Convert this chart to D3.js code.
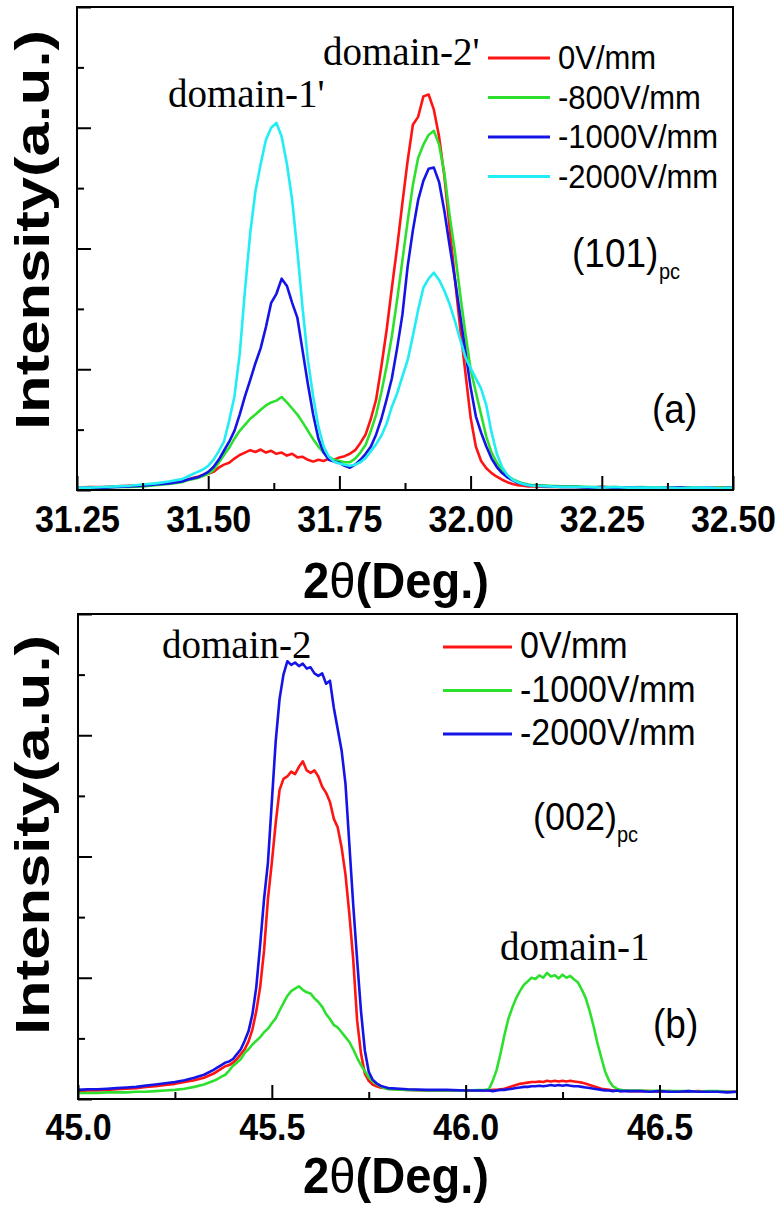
<!DOCTYPE html>
<html>
<head>
<meta charset="utf-8">
<script src="https://cdn.jsdelivr.net/npm/d3@7"></script>
<style>
html,body{margin:0;padding:0;background:#fff;}
svg{display:block;}
</style>
</head>
<body>
<svg id="chart" width="780" height="1207"></svg>
<script>
// ---------------- Panel (a): (101)pc ----------------
const twoThetaA = [
31.25,31.275,31.30,31.325,31.35,31.375,31.40,31.425,31.45,
31.46,31.47,31.48,31.49,31.50,31.51,31.52,31.53,31.54,31.55,
31.56,31.57,31.58,31.59,31.60,31.61,31.62,31.63,31.64,31.65,
31.66,31.67,31.68,31.69,31.70,31.71,31.72,31.73,31.74,31.75,
31.76,31.77,31.78,31.79,31.80,31.81,31.82,31.83,31.84,31.85,
31.86,31.87,31.88,31.89,31.90,31.91,31.92,31.93,31.94,31.95,
31.96,31.97,31.98,31.99,32.00,32.01,32.02,32.03,32.04,32.05,
32.06,32.07,32.08,32.09,32.10,32.11,32.12,
32.15,32.175,32.20,32.225,32.25,32.275,32.30,32.325,32.35,32.375,32.40,32.425,32.45,32.475,32.50
];
const seriesA = ["0V/mm","-800V/mm","-1000V/mm","-2000V/mm"];
const colorsA = ["#ff1414","#2ee02e","#1414e6","#22ecf4"];
const a_0V = [
0.04,0.05,0.05,0.06,0.07,0.08,0.10,0.12,0.15,
0.17,0.20,0.22,0.25,0.27,0.30,0.37,0.42,0.45,0.52,
0.58,0.62,0.66,0.63,0.67,0.62,0.65,0.60,0.62,0.57,
0.60,0.54,0.55,0.50,0.47,0.50,0.48,0.52,0.50,0.54,
0.56,0.60,0.66,0.78,0.92,1.18,1.50,2.05,2.65,3.35,
4.02,4.75,5.45,6.05,6.18,6.52,6.55,6.30,5.85,5.20,
4.35,3.50,2.70,1.95,1.20,0.72,0.48,0.36,0.28,0.22,
0.17,0.13,0.10,0.08,0.07,0.06,0.06,
0.05,0.05,0.05,0.04,0.05,0.04,0.04,0.04,0.04,0.03,0.04,0.04,0.03,0.04,0.04
];
const a_800V = [
0.03,0.03,0.04,0.05,0.05,0.06,0.08,0.10,0.13,
0.16,0.18,0.20,0.23,0.27,0.33,0.45,0.58,0.70,0.85,
0.98,1.08,1.18,1.25,1.33,1.40,1.45,1.48,1.54,1.45,
1.35,1.25,1.12,0.98,0.84,0.72,0.62,0.55,0.50,0.48,
0.46,0.46,0.52,0.62,0.75,0.98,1.25,1.62,2.05,2.55,
3.15,3.80,4.45,5.05,5.50,5.72,5.88,5.95,5.72,5.25,
4.55,3.95,3.25,2.60,2.00,1.62,1.25,0.88,0.62,0.45,
0.33,0.24,0.18,0.14,0.11,0.09,0.08,
0.07,0.06,0.06,0.05,0.05,0.05,0.04,0.05,0.04,0.04,0.04,0.04,0.03,0.04,0.04
];
const a_1000V = [
0.03,0.04,0.04,0.05,0.06,0.07,0.09,0.11,0.14,
0.17,0.19,0.21,0.25,0.30,0.38,0.50,0.65,0.80,0.98,
1.25,1.55,1.82,2.10,2.35,2.70,3.10,3.25,3.50,3.38,
3.10,2.85,2.30,1.75,1.25,0.85,0.62,0.50,0.47,0.45,
0.40,0.37,0.42,0.50,0.60,0.72,0.92,1.18,1.50,1.85,
2.35,2.90,3.70,4.30,4.80,5.12,5.32,5.34,5.10,4.62,
4.05,3.50,2.90,2.30,1.70,1.22,0.95,0.72,0.52,0.38,
0.28,0.21,0.16,0.12,0.10,0.08,0.07,
0.06,0.05,0.05,0.04,0.05,0.04,0.04,0.04,0.03,0.04,0.04,0.03,0.04,0.03,0.04
];
const a_2000V = [
0.04,0.04,0.05,0.06,0.07,0.09,0.11,0.14,0.18,
0.22,0.26,0.30,0.34,0.40,0.50,0.64,0.80,1.15,1.55,
2.25,3.30,4.25,4.95,5.40,5.80,6.00,6.08,5.85,5.40,
4.80,3.95,3.00,2.15,1.55,1.05,0.72,0.55,0.47,0.44,
0.42,0.40,0.42,0.46,0.53,0.64,0.76,0.90,1.10,1.38,
1.60,1.88,2.15,2.55,2.98,3.35,3.50,3.60,3.48,3.30,
3.08,2.80,2.50,2.20,2.02,1.85,1.68,1.40,0.95,0.60,
0.38,0.25,0.17,0.13,0.10,0.08,0.07,
0.06,0.05,0.05,0.05,0.04,0.05,0.04,0.04,0.04,0.04,0.03,0.04,0.04,0.03,0.04
];
const ticksA = [31.25,31.50,31.75,32.00,32.25,32.50];
const minorTicksA = [31.375,31.625,31.875,32.125,32.375];

// ---------------- Panel (b): (002)pc ----------------
const twoThetaB = [
45.000,45.025,45.050,45.075,45.100,45.125,45.150,45.175,45.200,45.225,45.250,45.275,45.300,45.325,45.350,
45.36,45.37,45.38,45.39,45.40,45.41,45.42,45.43,45.44,45.45,
45.46,45.47,45.48,45.49,45.50,45.51,45.52,45.53,45.54,45.55,
45.56,45.57,45.58,45.59,45.60,45.61,45.62,45.63,45.64,45.65,
45.66,45.67,45.68,45.69,45.70,45.71,45.72,45.73,45.74,45.75,
45.76,45.77,45.78,45.79,45.80,
45.85,45.90,45.95,46.00,46.05,
46.06,46.07,46.08,46.09,46.10,46.11,46.12,46.13,46.14,46.15,
46.16,46.17,46.18,46.19,46.20,46.21,46.22,46.23,46.24,46.25,
46.26,46.27,46.28,46.29,46.30,46.31,46.32,46.33,46.34,46.35,
46.36,46.37,46.38,46.39,46.40,46.41,46.42,
46.45,46.475,46.50,46.525,46.55,46.575,46.60,46.625,46.65,46.675,46.70
];
const seriesB = ["0V/mm","-1000V/mm","-2000V/mm"];
const colorsB = ["#ff1414","#2ee02e","#1414e6"];
const b_0V = [
0.13,0.14,0.14,0.15,0.16,0.17,0.18,0.20,0.21,0.23,0.25,0.28,0.31,0.35,0.42,
0.46,0.50,0.54,0.56,0.60,0.66,0.74,0.82,0.95,1.15,
1.45,1.85,2.45,3.30,3.90,4.55,5.10,5.28,5.32,5.40,
5.36,5.48,5.57,5.42,5.38,5.42,5.32,5.15,5.05,4.90,
4.62,4.48,4.15,3.70,3.05,2.30,1.30,0.75,0.42,0.30,
0.24,0.21,0.19,0.18,0.17,
0.15,0.14,0.14,0.14,0.14,
0.14,0.15,0.15,0.16,0.17,0.19,0.21,0.23,0.25,0.26,
0.27,0.28,0.28,0.29,0.28,0.30,0.29,0.30,0.29,0.30,
0.29,0.30,0.29,0.28,0.27,0.25,0.23,0.21,0.19,0.17,
0.16,0.15,0.14,0.14,0.13,0.14,0.13,
0.13,0.13,0.12,0.13,0.12,0.12,0.13,0.12,0.12,0.12,0.12
];
const b_1000V = [
0.10,0.10,0.10,0.11,0.11,0.11,0.12,0.12,0.13,0.14,0.15,0.17,0.20,0.24,0.30,
0.33,0.37,0.40,0.47,0.55,0.60,0.66,0.76,0.82,0.90,
0.96,1.02,1.10,1.16,1.25,1.33,1.46,1.58,1.70,1.78,
1.82,1.86,1.80,1.76,1.74,1.66,1.60,1.52,1.40,1.32,
1.22,1.18,1.10,1.02,0.94,0.82,0.68,0.56,0.46,0.36,
0.29,0.25,0.21,0.18,0.16,
0.15,0.14,0.14,0.14,0.15,
0.16,0.30,0.48,0.75,1.05,1.32,1.50,1.66,1.78,1.88,
1.94,2.00,1.98,2.04,2.00,2.08,2.02,2.04,1.99,2.05,
2.00,2.03,1.97,1.92,1.80,1.66,1.45,1.20,0.92,0.68,
0.45,0.30,0.21,0.17,0.15,0.14,0.14,
0.14,0.13,0.14,0.13,0.13,0.13,0.12,0.13,0.13,0.12,0.12
];
const b_2000V = [
0.15,0.16,0.16,0.17,0.18,0.19,0.20,0.22,0.24,0.26,0.28,0.31,0.35,0.40,0.48,
0.52,0.56,0.60,0.62,0.66,0.74,0.82,0.96,1.12,1.40,
1.85,2.55,3.30,3.90,4.90,5.90,6.60,7.00,7.22,7.16,
7.20,7.14,7.18,7.10,7.12,7.02,6.98,7.02,6.85,6.90,
6.45,6.10,5.75,5.20,4.20,3.20,2.30,1.45,0.80,0.45,
0.32,0.26,0.22,0.20,0.18,
0.16,0.15,0.15,0.14,0.14,
0.14,0.13,0.14,0.15,0.15,0.16,0.17,0.18,0.19,0.20,
0.20,0.21,0.21,0.22,0.21,0.22,0.23,0.22,0.23,0.22,
0.23,0.22,0.21,0.21,0.20,0.19,0.18,0.17,0.16,0.15,
0.14,0.14,0.13,0.14,0.13,0.13,0.13,
0.13,0.12,0.13,0.12,0.12,0.13,0.12,0.12,0.12,0.11,0.12
];
const ticksB = [45.0,45.5,46.0,46.5];
const minorTicksB = [45.25,45.75,46.25];

const yMajor = [0,2,4,6,8];
const yMinor = [1,3,5,7];

// ---------------- drawing ----------------
const svg = d3.select("#chart");
const SANS = "'Liberation Sans', Arial, sans-serif";
const SERIF = "'Liberation Serif', 'Times New Roman', serif";

function panel(cfg){
  const g = svg.append("g");
  const x = d3.scaleLinear().domain(cfg.xDomain).range([cfg.left, cfg.right]);
  const y = d3.scaleLinear().domain([0,8]).range([cfg.bottom, cfg.top]);

  // curves
  const line = d3.line().x(d => x(d[0])).y(d => y(d[1]));
  cfg.values.forEach((vals, i) => {
    const pts = cfg.xs.map((xv, j) => [xv, vals[j]]);
    g.append("path").datum(pts)
      .attr("fill","none").attr("stroke", cfg.colors[i])
      .attr("stroke-width", 2.6).attr("stroke-linejoin","round")
      .attr("d", line);
  });

  // axes (ticks inward)
  const xMaj = d3.axisBottom(x).tickValues(cfg.ticks).tickSize(-14).tickFormat(cfg.fmt);
  const xMin = d3.axisBottom(x).tickValues(cfg.minor).tickSize(-7).tickFormat("");
  const yMaj = d3.axisLeft(y).tickValues(yMajor).tickSize(-14).tickFormat("");
  const yMin = d3.axisLeft(y).tickValues(yMinor).tickSize(-7).tickFormat("");
  const gx = g.append("g").attr("transform",`translate(0,${cfg.bottom})`).call(xMaj);
  g.append("g").attr("transform",`translate(0,${cfg.bottom})`).call(xMin);
  g.append("g").attr("transform",`translate(${cfg.left},0)`).call(yMaj);
  g.append("g").attr("transform",`translate(${cfg.left},0)`).call(yMin);
  g.selectAll(".domain").remove();
  g.selectAll(".tick line").attr("stroke","#000").attr("stroke-width",2);
  gx.selectAll(".tick text")
    .attr("y", 0).attr("dy", 0)
    .attr("transform", `translate(0,${cfg.labelOffset}) scale(1,1.1)`)
    .attr("font-family", SANS).attr("font-weight","bold")
    .attr("font-size", 34).attr("fill","#000");

  // frame
  g.append("rect").attr("x",cfg.left).attr("y",cfg.top)
    .attr("width",cfg.right-cfg.left).attr("height",cfg.bottom-cfg.top)
    .attr("fill","none").attr("stroke","#000").attr("stroke-width",2);

  // axis titles
  const xt = g.append("text")
    .attr("transform",`translate(${cfg.xTitleX},${cfg.xTitleY}) scale(1,1.1)`)
    .attr("text-anchor","middle").attr("font-family",SANS).attr("font-weight","bold")
    .attr("font-size",46).attr("textLength",186).attr("lengthAdjust","spacingAndGlyphs");
  xt.append("tspan").text("2");
  xt.append("tspan").attr("font-weight","normal").text("θ");
  xt.append("tspan").text("(Deg.)");
  g.append("text")
    .attr("transform",`translate(${cfg.yTitleX},${cfg.yTitleY}) rotate(-90)`)
    .attr("text-anchor","middle").attr("font-family",SANS).attr("font-weight","bold")
    .attr("font-size",48).attr("textLength",400).attr("lengthAdjust","spacingAndGlyphs")
    .text("Intensity(a.u.)");

  // legend
  cfg.series.forEach((s, i) => {
    const ly = cfg.legY0 + i*cfg.legDy;
    g.append("line").attr("x1",cfg.legX1).attr("x2",cfg.legX2)
      .attr("y1",ly).attr("y2",ly).attr("stroke",cfg.colors[i]).attr("stroke-width",3);
    g.append("text").attr("transform",`translate(${cfg.legX2+8},${ly+11}) scale(1,1.08)`)
      .attr("font-family",SANS).attr("font-size",cfg.legFont).attr("fill","#000").text(s);
  });

  // annotations
  cfg.notes.forEach(n => {
    g.append("text")
      .attr("transform", `translate(${n.x},${n.y}) scale(1,${n.serif ? 1 : 1.1})`)
      .attr("font-family", n.serif ? SERIF : SANS)
      .attr("font-size", n.size).attr("fill","#000").text(n.t);
  });
}

panel({
  xs: twoThetaA, values: [a_0V, a_800V, a_1000V, a_2000V],
  series: seriesA, colors: colorsA,
  xDomain: [31.25, 32.50], left: 77, right: 733, top: 7, bottom: 490,
  ticks: ticksA, minor: minorTicksA, fmt: d3.format(".2f"), labelOffset: 42,
  xTitleX: 396, xTitleY: 598, yTitleX: 49, yTitleY: 230,
  legX1: 488, legX2: 550, legY0: 58, legDy: 39.5, legFont: 31,
  notes: [
    {t:"domain-1'", x:168, y:107, size:39, serif:true},
    {t:"domain-2'", x:323, y:65, size:39, serif:true},
    {t:"(101)", x:572, y:267, size:37},
    {t:"pc", x:659, y:279, size:20},
    {t:"(a)", x:652, y:423, size:37}
  ]
});

panel({
  xs: twoThetaB, values: [b_0V, b_1000V, b_2000V],
  series: seriesB, colors: colorsB,
  xDomain: [45.0, 46.7], left: 78, right: 737, top: 614, bottom: 1099,
  ticks: ticksB, minor: minorTicksB, fmt: d3.format(".1f"), labelOffset: 41,
  xTitleX: 396, xTitleY: 1193, yTitleX: 49, yTitleY: 835,
  legX1: 443, legX2: 512, legY0: 647, legDy: 43.5, legFont: 34,
  notes: [
    {t:"domain-2", x:162, y:658, size:39, serif:true},
    {t:"domain-1", x:500, y:960, size:39, serif:true},
    {t:"(002)", x:533, y:830, size:36},
    {t:"pc", x:617, y:842, size:20},
    {t:"(b)", x:653, y:1038, size:37}
  ]
});
</script>
</body>
</html>
